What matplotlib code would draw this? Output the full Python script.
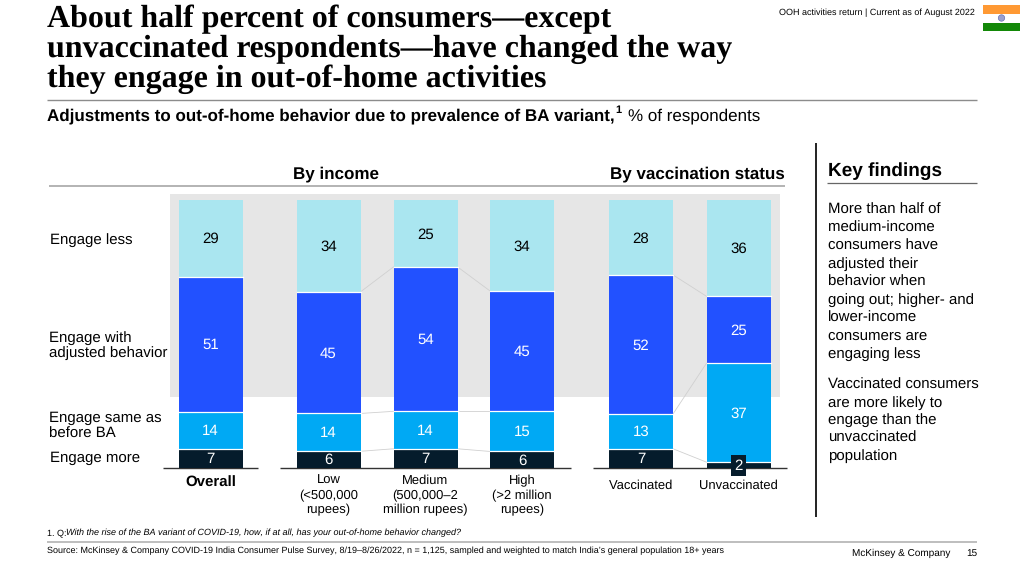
#!/usr/bin/env python3
# Stacked bars of out-of-home behavior, laid out on a 1024x576 pixel canvas.
import numpy as np
import matplotlib
matplotlib.use("Agg")
import matplotlib.pyplot as plt
from matplotlib.patches import Rectangle, Circle

plt.rcParams["text.hinting"] = "no_hinting"
plt.rcParams["text.hinting_factor"] = 1

SANS = "Liberation Sans"
SERIF = "Liberation Serif"

groups = ["Overall", "Low\n(<500,000\nrupees)", "Medium\n(500,000–2\nmillion rupees)",
          "High\n(>2 million\nrupees)", "Vaccinated", "Unvaccinated"]
engage_more = [7, 6, 7, 6, 7, 2]
engage_same = [14, 14, 14, 15, 13, 37]
engage_adjusted = [51, 45, 54, 45, 52, 25]
engage_less = [29, 34, 25, 34, 28, 36]

series_names = ["Engage more", "Engage same as\nbefore BA", "Engage with\nadjusted behavior", "Engage less"]
series_colors = ["#051C2C", "#00A9F4", "#2251FF", "#AAE6F0"]
label_colors = ["white", "white", "white", "black"]

title_lines = ["About half percent of consumers—except",
               "unvaccinated respondents—have changed the way",
               "they engage in out-of-home activities"]
findings_1 = ["More than half of", "medium-income", "consumers have", "adjusted their", "behavior when",
              "going out; higher- and", "lower-income", "consumers are", "engaging less"]
findings_2 = ["Vaccinated consumers", "are more likely to", "engage than the", "unvaccinated", "population"]

bar_x = [210.5, 328.5, 425.5, 522, 641, 738.5]
BAR_W = 64
BASE_Y = 467.5
TOP_Y = 200

fig = plt.figure(figsize=(10.24, 5.76), dpi=100)

# page layer, pixel coordinates with y pointing down
page = fig.add_axes([0, 0, 1, 1])
page.set_xlim(0, 1024)
page.set_ylim(576, 0)
page.axis("off")

# bar layer shares the pixel x scale, y runs 0-100
ax = fig.add_axes([0, (576 - BASE_Y) / 576, 1, (BASE_Y - TOP_Y) / 576])
ax.set_xlim(0, 1024)
ax.set_ylim(0, 100)
ax.axis("off")
ax.patch.set_alpha(0)


def txt(x, y, s, size=10.5, color="black", ha="left", va="center", weight="normal", style="normal", family=SANS, **kw):
    return page.text(x, y, s, fontsize=size, color=color, ha=ha, va=va, weight=weight,
                     style=style, family=family, **kw)


def rule(x0, x1, y0, y1=None, color="#8c8c8c", lw=1.0):
    page.plot([x0, x1], [y0, y0 if y1 is None else y1], color=color, lw=lw, solid_capstyle="butt")


# title block
for i, line in enumerate(title_lines):
    txt(47, 19 + i * 30.2, line, size=22.75, weight="bold", family=SERIF)
rule(47, 977, 99.5)
txt(47, 116, "Adjustments to out-of-home behavior due to prevalence of BA variant,", size=12.2, weight="bold")
txt(615, 110.5, "1", size=8.2, weight="bold")
txt(628, 116, "% of respondents", size=12.2, ha="left")

txt(975, 13, "OOH activities return | Current as of August 2022", size=6.35, ha="right")

# flag
page.add_patch(Rectangle((983, 5), 37, 9, color="#FF9933", lw=0))
page.add_patch(Rectangle((983, 14), 37, 9, color="white", lw=0))
page.add_patch(Rectangle((983, 22.5), 37, 8.5, color="#138808", lw=0))
page.add_patch(Circle((1001.5, 18), 3.2, fc="#9aa0d0", ec="#6a70b0", lw=0.5))

# section headers
rule(49, 785, 186, color="#b3b3b3", lw=1.4)
txt(336, 174, "By income", size=12.2, weight="bold", ha="center")
txt(697.5, 174, "By vaccination status", size=12.2, weight="bold", ha="center")

# grey highlight band behind the bars
page.add_patch(Rectangle((170, 194), 610, 202.5, color="#E6E6E6", lw=0))

# bars, normalised because rounded values do not always sum to 100
table = np.array([engage_more, engage_same, engage_adjusted, engage_less], dtype=float)
shares = table / table.sum(axis=0) * 100
tops = np.cumsum(shares, axis=0)
bottoms = tops - shares

for k in range(len(series_names)):
    ax.bar(bar_x, shares[k], bottom=bottoms[k], width=BAR_W, color=series_colors[k], linewidth=0, zorder=3)
    for j, x in enumerate(bar_x):
        # white separator on top of each segment
        if k < len(series_names) - 1:
            ax.plot([x - BAR_W / 2, x + BAR_W / 2], [tops[k][j], tops[k][j]], color="white", lw=0.9, zorder=3.5)
        mid = bottoms[k][j] + shares[k][j] / 2
        if table[k][j] == 2:
            ax.text(x, mid - 0.4, "2", color="white", fontsize=10.5, family=SANS, ha="center", va="center", zorder=5,
                    bbox=dict(fc=series_colors[k], ec="none", pad=2.5))
        else:
            ax.text(x, mid - 0.4, f"{int(table[k][j])}", color=label_colors[k], fontsize=10.5,
                    family=SANS, ha="center", va="center", zorder=4)

# thin connectors between neighbouring bars
for a, b in [(1, 2), (2, 3), (4, 5)]:
    for k in range(3):
        ax.plot([bar_x[a] + BAR_W / 2, bar_x[b] - BAR_W / 2], [tops[k][a], tops[k][b]],
                color="#d0d0d0", lw=0.6, zorder=2)

# row labels
txt(49.5, 240, series_names[3])
txt(49, 345.5, series_names[2], linespacing=1.15)
txt(49, 426, series_names[1], linespacing=1.2)
txt(49.5, 458, series_names[0])

# baselines
for x0, x1 in [(163, 258), (280, 571), (593, 787)]:
    rule(x0, x1, 467.5, color="#333333", lw=1.0)

# category labels
txt(bar_x[0], 482.5, groups[0], size=10.5, weight="bold", ha="center")
for j in [1, 2, 3]:
    txt(bar_x[j], 495.5, groups[j], size=9.0, ha="center", linespacing=1.27)
for j in [4, 5]:
    txt(bar_x[j], 486, groups[j], size=9.0, ha="center")

# key findings panel
rule(816, 816, 143, 517, color="#111111", lw=1.3)
txt(828, 171.5, "Key findings", size=13.4, weight="bold")
rule(827, 977, 183, color="#666666", lw=0.9)
for i, line in enumerate(findings_1):
    txt(828, 210 + i * 18, line, size=10.5)
for i, line in enumerate(findings_2):
    txt(828, 385 + i * 17.7, line, size=10.5)

# footer
txt(47, 533, "1. Q:", size=6.2)
txt(66.5, 533, "With the rise of the BA variant of COVID-19, how, if at all, has your out-of-home behavior changed?",
    size=6.2, style="italic")
rule(47, 977, 542, color="#b3b3b3", lw=1.2)
txt(47, 551, "Source: McKinsey & Company COVID-19 India Consumer Pulse Survey, 8/19–8/26/2022, n = 1,125, "
    "sampled and weighted to match India’s general population 18+ years", size=6.2)
txt(852, 553, "McKinsey & Company", size=6.85)
txt(977, 553, "15", size=6.85, ha="right")

fig.savefig("out.png", dpi=100)
